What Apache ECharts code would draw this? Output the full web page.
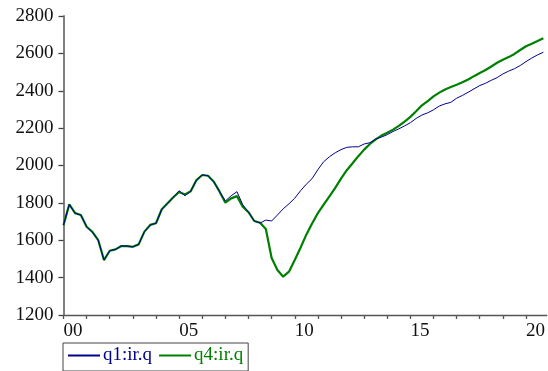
<!DOCTYPE html>
<html>
<head>
<meta charset="utf-8">
<script src="https://cdn.jsdelivr.net/npm/echarts@6/dist/echarts.min.js"></script>
<style>
html,body{margin:0;padding:0;background:#fff;}
#chart{width:548px;height:371px;}
</style>
</head>
<body>
<div id="chart"></div>
<script>
// Quarterly series, 2000Q1 .. 2020Q4
const startYear = 2000;
const seriesNames = ['q1:ir.q', 'q4:ir.q'];
const q1 = [
  1681, 1792, 1745, 1735, 1672, 1643, 1601, 1494,
  1544, 1551, 1569, 1569, 1565, 1578, 1646, 1682,
  1691, 1766, 1798, 1830, 1865, 1838, 1862, 1922,
  1949, 1945, 1913, 1860, 1810, 1838, 1860, 1790,
  1750, 1703, 1692, 1708, 1703, 1735, 1768, 1795,
  1825, 1865, 1900, 1930, 1978, 2020, 2047, 2068,
  2085, 2097, 2100, 2100, 2115, 2122, 2142, 2152,
  2165, 2182, 2196, 2212, 2229, 2252, 2270, 2282,
  2298, 2318, 2330, 2338, 2360, 2375, 2392, 2410,
  2428, 2440, 2456, 2470, 2490, 2505, 2518, 2535,
  2556, 2575, 2592, 2606
];
const q4 = [
  1681, 1792, 1745, 1735, 1672, 1645, 1601, 1494,
  1544, 1551, 1569, 1569, 1565, 1578, 1646, 1682,
  1691, 1766, 1798, 1830, 1858, 1845, 1862, 1922,
  1949, 1945, 1913, 1860, 1801, 1824, 1836, 1780,
  1750, 1703, 1694, 1660, 1505, 1441, 1405, 1432,
  1494, 1560, 1630, 1690, 1745, 1790, 1835, 1880,
  1930, 1975, 2012, 2050, 2085, 2115, 2140, 2160,
  2175, 2192, 2212, 2235, 2260, 2290, 2322, 2345,
  2370, 2390, 2407, 2420, 2432, 2445, 2460, 2478,
  2495, 2511, 2530, 2550, 2566, 2580, 2597, 2618,
  2638, 2652, 2666, 2681
];
const yTicks = [1200, 1400, 1600, 1800, 2000, 2200, 2400, 2600, 2800];
const xLabelYears = [0, 5, 10, 15, 20];

const toPairs = arr => arr.map((v, i) => [i / 4, v]);
const FONT = '"Liberation Serif", "Times New Roman", serif';

const chart = echarts.init(document.getElementById('chart'), null, {renderer: 'canvas'});
chart.setOption({
  animation: false,
  backgroundColor: '#ffffff',
  grid: {left: 63.5, right: 0, top: 16, bottom: 56, containLabel: false},
  xAxis: {
    type: 'value',
    min: 0, max: 20.9, interval: 1,
    axisLine: {show: true, lineStyle: {color: '#555', width: 1.3}},
    axisTick: {show: true, length: 4, lineStyle: {color: '#555', width: 1.3}},
    splitLine: {show: false},
    axisLabel: {
      show: true, align: 'left', margin: 7,
      color: '#111', fontFamily: FONT, fontSize: 19,
      showMaxLabel: false,
      formatter: v => xLabelYears.indexOf(Math.round(v)) >= 0 && Math.abs(v - Math.round(v)) < 1e-6
        ? String(Math.round(v) % 100).padStart(2, '0') : ''
    }
  },
  yAxis: {
    type: 'value',
    min: yTicks[0], max: yTicks[yTicks.length - 1], interval: 200,
    axisLine: {show: true, lineStyle: {color: '#808080', width: 2}},
    axisTick: {show: true, length: 5, lineStyle: {color: '#444', width: 1.3}},
    splitLine: {show: false},
    axisLabel: {margin: 10, color: '#111', fontFamily: FONT, fontSize: 19,
      formatter: v => String(v)}
  },
  legend: {
    show: true,
    left: 63, top: 343,
    orient: 'horizontal',
    padding: [3, 5, 6, 4],
    itemGap: 6,
    itemWidth: 32, itemHeight: 12,
    borderColor: '#444', borderWidth: 1,
    backgroundColor: '#fff',
    itemStyle: {opacity: 0},
    textStyle: {fontFamily: FONT, fontSize: 19, padding: [0, 0, 0, -2]},
    data: [
      {name: seriesNames[0], textStyle: {color: '#00008B'}},
      {name: seriesNames[1], textStyle: {color: '#008000'}}
    ]
  },
  series: [
    {
      name: seriesNames[0], type: 'line', data: toPairs(q1),
      symbol: 'none', showSymbol: false, smooth: false,
      lineStyle: {color: '#00008B', width: 1}, itemStyle: {color: '#00008B'},
      z: 3
    },
    {
      name: seriesNames[1], type: 'line', data: toPairs(q4),
      symbol: 'none', showSymbol: false, smooth: false,
      lineStyle: {color: '#008000', width: 2.2}, itemStyle: {color: '#008000'},
      z: 2
    }
  ]
});
</script>
</body>
</html>
